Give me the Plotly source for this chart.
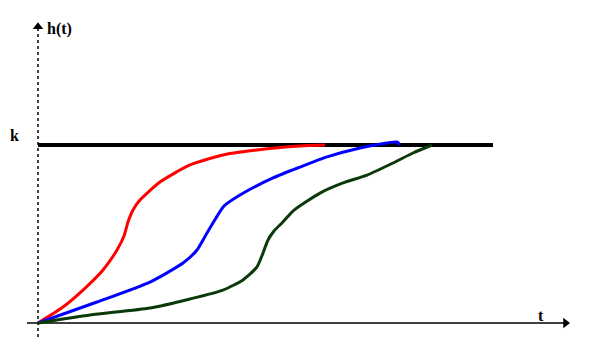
import plotly.graph_objects as go

# Data (t in time units, h normalized so k = 1)
red_t = [0, 0.50, 0.90, 1.30, 1.58, 1.72, 1.80, 1.90, 2.04, 2.44, 3.04, 3.70, 4.38, 5.24, 5.74]
red_h = [0, 0.09, 0.185, 0.298, 0.41, 0.489, 0.567, 0.635, 0.691, 0.792, 0.888, 0.944, 0.972, 0.994, 1.00]

blue_t = [0, 1.18, 2.24, 2.90, 3.18, 3.38, 3.56, 3.72, 4.04, 4.70, 5.24, 5.78, 6.44, 6.98, 7.18, 7.24]
blue_h = [0, 0.118, 0.230, 0.337, 0.410, 0.506, 0.590, 0.657, 0.719, 0.815, 0.876, 0.933, 0.983, 1.011, 1.017, 1.00]

green_t = [0, 1.04, 2.24, 3.04, 3.70, 4.10, 4.38, 4.50, 4.60, 4.72, 4.88, 5.10, 5.64, 6.10, 6.58, 7.10, 7.50, 7.88]
green_h = [0, 0.045, 0.084, 0.135, 0.185, 0.242, 0.315, 0.393, 0.466, 0.517, 0.562, 0.629, 0.730, 0.787, 0.831, 0.899, 0.955, 1.00]

k_t = [0, 9.1]
k_h = [1, 1]

fig = go.Figure()

# axes
fig.add_trace(go.Scatter(x=[-0.22, 10.55], y=[0, 0], mode="lines",
                         line=dict(color="black", width=1.5), hoverinfo="skip"))
fig.add_trace(go.Scatter(x=[0, 0], y=[-0.079, 1.66], mode="lines",
                         line=dict(color="black", width=1.5, dash="dot"), hoverinfo="skip"))
fig.add_trace(go.Scatter(x=[10.55], y=[0], mode="markers",
                         marker=dict(symbol="triangle-right", size=9, color="black"), hoverinfo="skip"))
fig.add_trace(go.Scatter(x=[0], y=[1.665], mode="markers",
                         marker=dict(symbol="triangle-up", size=9, color="black"), hoverinfo="skip"))

# k level
fig.add_trace(go.Scatter(x=k_t, y=k_h, mode="lines", line=dict(color="black", width=4)))

for tt, hh, col in [(red_t, red_h, "#ff0000"), (blue_t, blue_h, "#0000ff"), (green_t, green_h, "#0a3a0a")]:
    fig.add_trace(go.Scatter(x=tt, y=hh, mode="lines", line=dict(color=col, width=3, shape="spline", smoothing=0.6)))

font = dict(family="Liberation Serif", size=16, color="black")
fig.add_annotation(x=0.42, y=1.652, text="<b>h(t)</b>", showarrow=False, font=font, xanchor="center", yanchor="middle")
fig.add_annotation(x=-0.48, y=1.056, text="<b>k</b>", showarrow=False, font=font, xanchor="center", yanchor="middle")
fig.add_annotation(x=10.06, y=0.04, text="<b>t</b>", showarrow=False, font=font, xanchor="center", yanchor="middle")

fig.update_layout(
    width=616, height=350,
    margin=dict(l=0, r=0, t=0, b=0),
    paper_bgcolor="white", plot_bgcolor="white",
    showlegend=False,
    xaxis=dict(range=[-0.76, 11.56], visible=False, fixedrange=True),
    yaxis=dict(range=[-0.1517, 1.8146], visible=False, fixedrange=True),
)

fig.write_html("out.html", config={"displayModeBar": False},
               post_script="document.body.style.margin='0';document.body.style.overflow='hidden';")
